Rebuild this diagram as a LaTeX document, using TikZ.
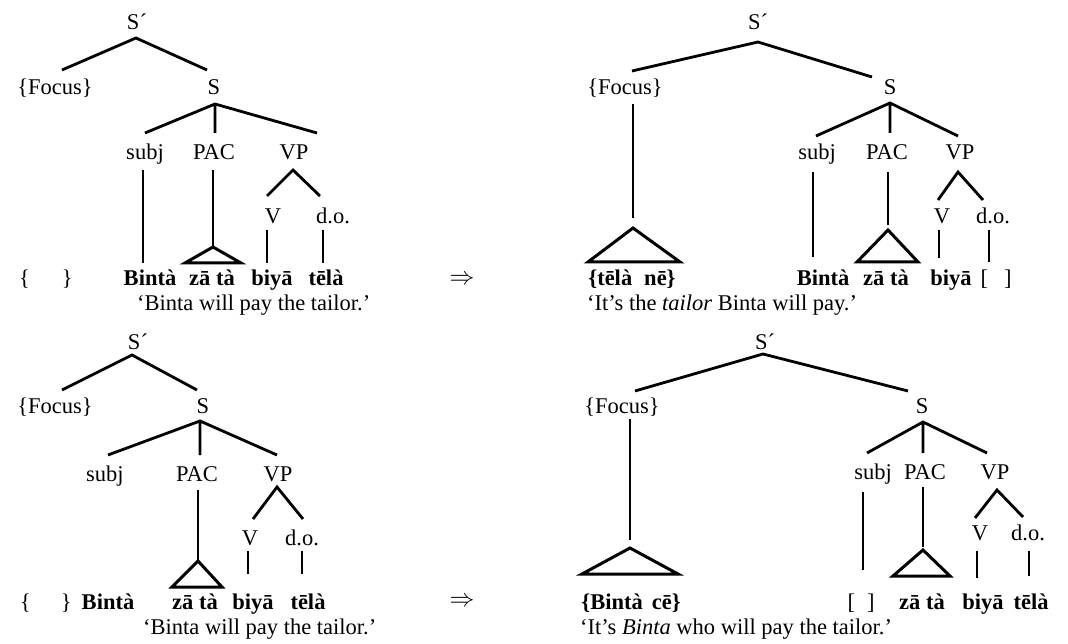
\documentclass[tikz,border=0pt]{standalone}
\usepackage{fontspec}
\setmainfont{Liberation Serif}
\begin{document}
\begin{tikzpicture}[x=1pt,y=-1pt,
  lab/.style={font=\fontsize{22.5}{26}\selectfont, inner sep=0pt, anchor=base},
  wd/.style={font=\fontsize{22.5}{26}\selectfont\bfseries, inner sep=0pt, anchor=base},
  gl/.style={font=\fontsize{22.5}{26}\selectfont, inner sep=0pt, anchor=base west},
  arrow/.style={font=\fontsize{26}{30}\selectfont, inner sep=0pt},
  br/.style={line width=2.8pt},
  tri/.style={line width=3pt, line join=miter}]
\useasboundingbox (0,0) rectangle (1068,644);

% ================= TOP LEFT =================
\node[lab] (tlSp) at (137,30) {S´};
\coordinate (tlSpA) at (136,38);
\coordinate (tlFe) at (62,70);
\coordinate (tlSe) at (207,70);
\node[lab] (tlF) at (55,95) {\{Focus\}};
\node[lab] (tlS) at (214,95) {S};
\coordinate (tlSA) at (215,104);
\coordinate (tlsubje) at (145,133);
\coordinate (tlPACe) at (215,133);
\coordinate (tlVPe) at (317,133);
\node[lab] (tlsubj) at (145,160) {subj};
\node[lab] (tlPAC) at (214,160) {PAC};
\node[lab] (tlVP) at (294,160) {VP};
\coordinate (tlsubjL1) at (143,170);
\coordinate (tlsubjL2) at (143,263);
\coordinate (tlPACL1) at (213,170);
\coordinate (tlPACT) at (213,247);
\coordinate (tlPACbl) at (185,263);
\coordinate (tlPACbr) at (241,263);
\coordinate (tlVPA) at (293,170);
\coordinate (tlVe) at (267,196);
\coordinate (tldoe) at (320,196);
\node[lab] (tlV) at (273,224) {V};
\node[lab] (tldo) at (333,224) {d.o.};
\coordinate (tlVL1) at (267,230);
\coordinate (tlVL2) at (267,263);
\coordinate (tldoL1) at (323,230);
\coordinate (tldoL2) at (323,263);
\node[lab] (tlbr) at (46,286) {\{\hspace{32pt}\}};
\node[wd] (tlw1) at (150,286) {Bintà};
\node[wd] (tlw2) at (212,286) {zā tà};
\node[wd] (tlw3) at (272,286) {biyā};
\node[wd] (tlw4) at (326,286) {tēlà};
\node[gl] (tlgl) at (137,311) {‘Binta will pay the tailor.’};
\draw[br] (tlFe) -- (tlSpA) -- (tlSe);
\draw[br] (tlsubje) -- (tlSA) -- (tlVPe) (tlSA) -- (tlPACe);
\draw[br] (tlsubjL1) -- (tlsubjL2) (tlPACL1) -- (tlPACT);
\draw[tri] (tlPACT) -- (tlPACbl) -- (tlPACbr) -- cycle;
\draw[br] (tlVe) -- (tlVPA) -- (tldoe);
\draw[br] (tlVL1) -- (tlVL2) (tldoL1) -- (tldoL2);

\node[arrow] (arr1) at (462,280) {$\Rightarrow$};

% ================= TOP RIGHT =================
\node[lab] (trSp) at (758,30) {S´};
\coordinate (trSpA) at (758,42);
\coordinate (trFe) at (632,71);
\coordinate (trSe) at (872,77);
\node[lab] (trF) at (625,95) {\{Focus\}};
\node[lab] (trS) at (890,95) {S};
\coordinate (trFL1) at (633,104);
\coordinate (trFL2) at (633,218);
\coordinate (trFT) at (633,228);
\coordinate (trFbl) at (588,262);
\coordinate (trFbr) at (680,262);
\coordinate (trSA) at (890,103);
\coordinate (trsubje) at (816,136);
\coordinate (trPACe) at (890,133);
\coordinate (trVPe) at (958,136);
\node[lab] (trsubj) at (817,160) {subj};
\node[lab] (trPAC) at (887,160) {PAC};
\node[lab] (trVP) at (960,160) {VP};
\coordinate (trsubjL1) at (813,172);
\coordinate (trsubjL2) at (813,257);
\coordinate (trPACL1) at (888,172);
\coordinate (trPACL2) at (888,225);
\coordinate (trPACT) at (888,230);
\coordinate (trPACbl) at (857,262);
\coordinate (trPACbr) at (918,262);
\coordinate (trVPA) at (958,172);
\coordinate (trVe) at (938,200);
\coordinate (trdoe) at (983,200);
\node[lab] (trV) at (942,224) {V};
\node[lab] (trdo) at (993,224) {d.o.};
\coordinate (trVL1) at (939,230);
\coordinate (trVL2) at (939,258);
\coordinate (trdoL1) at (989,230);
\coordinate (trdoL2) at (989,262);
\node[wd] (trw0) at (632,286) {\{tēlà\hspace{12pt}nē\}};
\node[wd] (trw1) at (823,286) {Bintà};
\node[wd] (trw2) at (886,286) {zā tà};
\node[wd] (trw3) at (951,286) {biyā};
\node[lab] (trbr) at (996,286) {[\hspace{16pt}]};
\node[gl] (trgl) at (587,311) {‘It’s the \textit{tailor} Binta will pay.’};
\draw[br] (trFe) -- (trSpA) -- (trSe);
\draw[br] (trFL1) -- (trFL2);
\draw[tri] (trFT) -- (trFbl) -- (trFbr) -- cycle;
\draw[br] (trsubje) -- (trSA) -- (trVPe) (trSA) -- (trPACe);
\draw[br] (trsubjL1) -- (trsubjL2) (trPACL1) -- (trPACL2);
\draw[tri] (trPACT) -- (trPACbl) -- (trPACbr) -- cycle;
\draw[br] (trVe) -- (trVPA) -- (trdoe);
\draw[br] (trVL1) -- (trVL2) (trdoL1) -- (trdoL2);

% ================= BOTTOM LEFT =================
\node[lab] (blSp) at (138,349) {S´};
\coordinate (blSpA) at (132,355);
\coordinate (blFe) at (62,390);
\coordinate (blSe) at (197,390);
\node[lab] (blF) at (55,413) {\{Focus\}};
\node[lab] (blS) at (203,413) {S};
\coordinate (blSA) at (200,421);
\coordinate (blsubje) at (108,455);
\coordinate (blPACe) at (200,455);
\coordinate (blVPe) at (277,455);
\node[lab] (blsubj) at (105,481) {subj};
\node[lab] (blPAC) at (197,481) {PAC};
\node[lab] (blVP) at (278,481) {VP};
\coordinate (blPACL1) at (198,490);
\coordinate (blPACT) at (198,561);
\coordinate (blPACbl) at (172,587);
\coordinate (blPACbr) at (222,587);
\coordinate (blVPA) at (277,487);
\coordinate (blVe) at (253,519);
\coordinate (bldoe) at (303,519);
\node[lab] (blV) at (250,545) {V};
\node[lab] (bldo) at (302,545) {d.o.};
\coordinate (blVL1) at (248,551);
\coordinate (blVL2) at (248,574);
\coordinate (bldoL1) at (302,551);
\coordinate (bldoL2) at (302,574);
\node[lab] (blbr) at (46,609) {\{\hspace{30pt}\}};
\node[wd] (blw1) at (108,609) {Bintà};
\node[wd] (blw2) at (195,609) {zā tà};
\node[wd] (blw3) at (253,609) {biyā};
\node[wd] (blw4) at (308,609) {tēlà};
\node[gl] (blgl) at (143,634) {‘Binta will pay the tailor.’};
\draw[br] (blFe) -- (blSpA) -- (blSe);
\draw[br] (blsubje) -- (blSA) -- (blVPe) (blSA) -- (blPACe);
\draw[br] (blPACL1) -- (blPACT);
\draw[tri] (blPACT) -- (blPACbl) -- (blPACbr) -- cycle;
\draw[br] (blVe) -- (blVPA) -- (bldoe);
\draw[br] (blVL1) -- (blVL2) (bldoL1) -- (bldoL2);

\node[arrow] (arr2) at (462,602) {$\Rightarrow$};

% ================= BOTTOM RIGHT =================
\node[lab] (brSp) at (765,349) {S´};
\coordinate (brSpA) at (763,354);
\coordinate (brFe) at (635,391);
\coordinate (brSe) at (908,391);
\node[lab] (brF) at (622,413) {\{Focus\}};
\node[lab] (brS) at (922,413) {S};
\coordinate (brFL1) at (630,419);
\coordinate (brFL2) at (630,540);
\coordinate (brFT) at (630,548);
\coordinate (brFbl) at (582,574);
\coordinate (brFbr) at (678,574);
\coordinate (brSA) at (923,422);
\coordinate (brsubje) at (867,453);
\coordinate (brPACe) at (923,453);
\coordinate (brVPe) at (987,453);
\node[lab] (brsubj) at (873,479) {subj};
\node[lab] (brPAC) at (925,479) {PAC};
\node[lab] (brVP) at (995,479) {VP};
\coordinate (brsubjL1) at (863,492);
\coordinate (brsubjL2) at (863,570);
\coordinate (brPACL1) at (923,487);
\coordinate (brPACL2) at (923,547);
\coordinate (brPACT) at (923,550);
\coordinate (brPACbl) at (893,576);
\coordinate (brPACbr) at (950,576);
\coordinate (brVPA) at (997,490);
\coordinate (brVe) at (975,518);
\coordinate (brdoe) at (1023,517);
\node[lab] (brV) at (980,540) {V};
\node[lab] (brdo) at (1028,540) {d.o.};
\coordinate (brVL1) at (977,551);
\coordinate (brVL2) at (977,578);
\coordinate (brdoL1) at (1029,551);
\coordinate (brdoL2) at (1029,576);
\node[wd] (brw0) at (631,609) {\{Bintà\hspace{9pt}cē\}};
\node[lab] (brbr) at (861,609) {[\hspace{12pt}]};
\node[wd] (brw2) at (922,609) {zā tà};
\node[wd] (brw3) at (983,609) {biyā};
\node[wd] (brw4) at (1031,609) {tēlà};
\node[gl] (brgl) at (580,634) {‘It’s \textit{Binta} who will pay the tailor.’};
\draw[br] (brFe) -- (brSpA) -- (brSe);
\draw[br] (brFL1) -- (brFL2);
\draw[tri] (brFT) -- (brFbl) -- (brFbr) -- cycle;
\draw[br] (brsubje) -- (brSA) -- (brVPe) (brSA) -- (brPACe);
\draw[br] (brsubjL1) -- (brsubjL2) (brPACL1) -- (brPACL2);
\draw[tri] (brPACT) -- (brPACbl) -- (brPACbr) -- cycle;
\draw[br] (brVe) -- (brVPA) -- (brdoe);
\draw[br] (brVL1) -- (brVL2) (brdoL1) -- (brdoL2);
\end{tikzpicture}
\end{document}
